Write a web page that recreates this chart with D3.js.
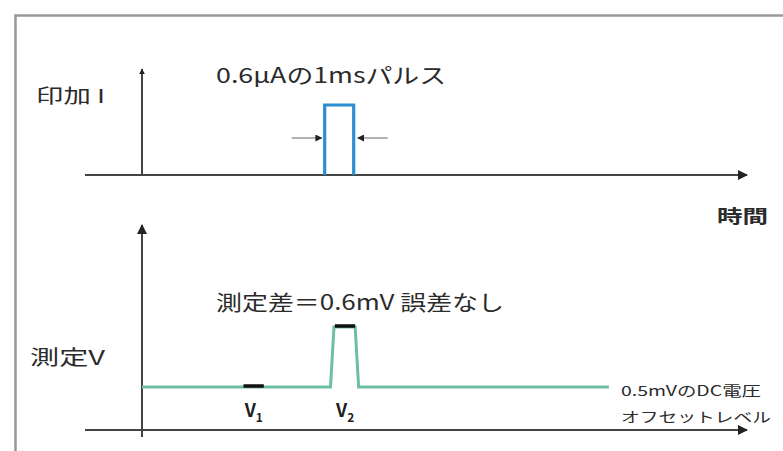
<!DOCTYPE html>
<html><head><meta charset="utf-8">
<script src="https://cdn.jsdelivr.net/npm/d3@7"></script>
<style>
html,body{margin:0;padding:0;background:#fff;}
svg{display:block;}
text{font-family:"Noto Sans CJK JP","Noto Sans",sans-serif;fill:#2b2b2b;}
</style></head>
<body>
<svg id="c" width="783" height="451"></svg>
<script>
// time in ms, current in µA, voltage in mV
const currentTimes = [0, 6.3, 6.3, 7.3, 7.3, 20];
const currentValues = [0, 0, 0.6, 0.6, 0, 0];
const voltageTimes = [0, 6.5, 6.62, 7.35, 7.47, 16.1];
const voltageValues = [0.5, 0.5, 1.1, 1.1, 0.5, 0.5];
const samples = [{name:"V", sub:"1", t0:3.5, t1:4.2, v:0.5}, {name:"V", sub:"2", t0:6.65, t1:7.35, v:1.1}];
const labels = {
  current: "印加 I", voltage: "測定V", time: "時間",
  pulse: "0.6μAの1msパルス", diff: "測定差＝0.6mV 誤差なし",
  offset1: "0.5mVのDC電圧", offset2: "オフセットレベル"
};

const svg = d3.select("#c");
const x = d3.scaleLinear().domain([0, 20]).range([142, 722]);
const yI = d3.scaleLinear().domain([0, 0.6]).range([175, 105]);
const yV = d3.scaleLinear().domain([0.5, 1.1]).range([387, 327]);

// frame
svg.append("path").attr("d","M15.5,451 V15.5 H783").attr("fill","none").attr("stroke","#999").attr("stroke-width",2.5);

const defs = svg.append("defs");
function mk(id,w,h){
  defs.append("marker").attr("id",id).attr("viewBox","0 0 10 10").attr("refX",9).attr("refY",5)
    .attr("markerWidth",w).attr("markerHeight",h).attr("markerUnits","userSpaceOnUse").attr("orient","auto")
    .append("path").attr("d","M0,0 L10,5 L0,10 z").attr("fill","#222");
}
mk("ah",6,6); mk("ahL",12,10); mk("ahS",7,7);

function axisLine(x1,y1,x2,y2,marker){
  const l = svg.append("line").attr("x1",x1).attr("y1",y1).attr("x2",x2).attr("y2",y2)
    .attr("stroke","#444").attr("stroke-width",2);
  if(marker) l.attr("marker-end","url(#"+marker+")");
  return l;
}
// top panel axes
axisLine(85, yI(0), 747, yI(0), "ahL");
axisLine(x(0), yI(0), x(0), 69, "ah");
// bottom panel axes
axisLine(85, 430, 747, 430, "ahL");
axisLine(x(0), 437, x(0), 225, "ahL");

// current pulse
const pulse = currentTimes.map((t,i)=>[t,currentValues[i]]).filter(d=>d[0]>=6.3 && d[0]<=7.3);
svg.append("path").datum(pulse)
  .attr("d", d3.line().x(d=>x(d[0])).y(d=>yI(d[1])))
  .attr("fill","none").attr("stroke","#2b8fcf").attr("stroke-width",3.2).attr("stroke-linejoin","miter");

// width arrows
svg.append("line").attr("x1",x(6.3)-33).attr("x2",x(6.3)-3).attr("y1",138).attr("y2",138)
  .attr("stroke","#888").attr("stroke-width",1.3).attr("marker-end","url(#ahS)");
svg.append("line").attr("x1",x(7.3)+34).attr("x2",x(7.3)+4).attr("y1",138).attr("y2",138)
  .attr("stroke","#888").attr("stroke-width",1.3).attr("marker-end","url(#ahS)");

// voltage trace
svg.append("path").datum(voltageTimes.map((t,i)=>[t,voltageValues[i]]))
  .attr("d", d3.line().x(d=>x(d[0])).y(d=>yV(d[1])))
  .attr("fill","none").attr("stroke","#6dbf9f").attr("stroke-width",3);

// sample marks
samples.forEach(s=>{
  svg.append("line").attr("x1",x(s.t0)).attr("x2",x(s.t1)).attr("y1",yV(s.v)-1).attr("y2",yV(s.v)-1)
    .attr("stroke","#111").attr("stroke-width",3.5);
});
samples.forEach(s=>{
  const t = svg.append("text").attr("x",(x(s.t0)+x(s.t1))/2 - 9).attr("y",417)
    .attr("font-size",18).attr("font-weight","bold").style("fill","#1e1e1e");
  t.append("tspan").text(s.name);
  t.append("tspan").attr("dy",5).attr("font-size",12).text(s.sub);
});

// labels
function label(txt,xp,yp,size,opts={}){
  const t = svg.append("text").attr("x",xp).attr("y",yp).attr("font-size",size).text(txt);
  if(opts.w) t.attr("textLength",opts.w).attr("lengthAdjust","spacingAndGlyphs");
  if(opts.bold) t.attr("font-weight","bold");
  if(opts.anchor) t.attr("text-anchor",opts.anchor);
  return t;
}
label(labels.current, 36, 103, 19, {w:69});
label(labels.voltage, 30, 365, 20, {w:75});
label(labels.time, 717, 223, 18, {w:51, bold:true});
label(labels.pulse, 216, 83, 21, {w:230});
label(labels.diff, 216, 310, 21, {w:288});
label(labels.offset1, 621, 396, 14, {w:140});
label(labels.offset2, 621, 422, 14, {w:150});
</script>
</body></html>
